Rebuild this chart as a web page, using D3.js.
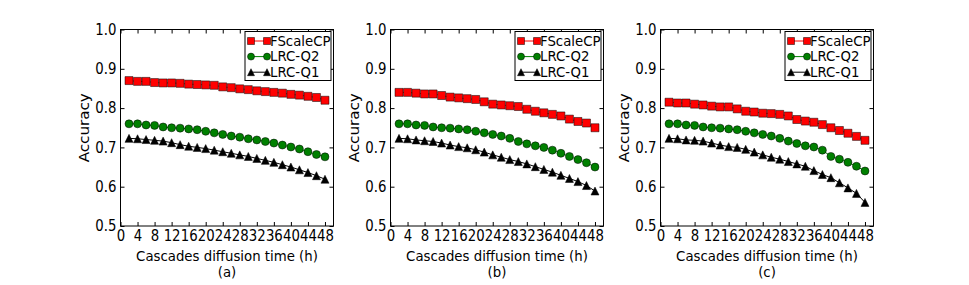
<!DOCTYPE html>
<html>
<head>
<meta charset="utf-8">
<script src="https://cdn.jsdelivr.net/npm/d3@7"></script>
<style>
  html, body { margin: 0; padding: 0; background: #fff; }
  svg { display: block; }
  text { font-family: "DejaVu Sans", sans-serif; fill: #000; }
</style>
</head>
<body>
<svg id="chart" width="969" height="285"></svg>
<script>
// ---- data ----
const hours = [2, 4, 6, 8, 10, 12, 14, 16, 18, 20, 22, 24, 26, 28, 30, 32, 34, 36, 38, 40, 42, 44, 46, 48];
const xTicks = [0, 4, 8, 12, 16, 20, 24, 28, 32, 36, 40, 44, 48];
const yTicks = [0.5, 0.6, 0.7, 0.8, 0.9, 1.0];
const seriesNames = ["FScaleCP", "LRC-Q2", "LRC-Q1"];
const panelLabels = ["(a)", "(b)", "(c)"];

const aFScaleCP = [0.870, 0.868, 0.868, 0.865, 0.864, 0.864, 0.863, 0.861, 0.860, 0.859, 0.858, 0.854, 0.852, 0.849, 0.847, 0.844, 0.842, 0.840, 0.838, 0.835, 0.833, 0.830, 0.827, 0.820];
const aLRCQ2   = [0.760, 0.760, 0.757, 0.756, 0.752, 0.750, 0.749, 0.747, 0.745, 0.741, 0.737, 0.733, 0.729, 0.726, 0.722, 0.719, 0.715, 0.711, 0.706, 0.701, 0.696, 0.689, 0.682, 0.676];
const aLRCQ1   = [0.723, 0.722, 0.720, 0.718, 0.716, 0.712, 0.707, 0.703, 0.700, 0.697, 0.693, 0.689, 0.685, 0.681, 0.677, 0.672, 0.667, 0.662, 0.656, 0.650, 0.643, 0.636, 0.628, 0.619];

const bFScaleCP = [0.840, 0.840, 0.838, 0.836, 0.836, 0.832, 0.828, 0.826, 0.824, 0.822, 0.816, 0.810, 0.808, 0.806, 0.804, 0.797, 0.792, 0.788, 0.784, 0.780, 0.772, 0.766, 0.762, 0.750];
const bLRCQ2   = [0.760, 0.760, 0.757, 0.756, 0.752, 0.750, 0.749, 0.747, 0.745, 0.741, 0.737, 0.733, 0.729, 0.723, 0.715, 0.709, 0.704, 0.700, 0.693, 0.685, 0.677, 0.669, 0.661, 0.650];
const bLRCQ1   = [0.723, 0.722, 0.719, 0.717, 0.715, 0.711, 0.706, 0.702, 0.699, 0.694, 0.688, 0.681, 0.675, 0.669, 0.664, 0.658, 0.651, 0.644, 0.637, 0.629, 0.621, 0.613, 0.603, 0.589];

const cFScaleCP = [0.815, 0.813, 0.813, 0.810, 0.808, 0.805, 0.803, 0.803, 0.798, 0.792, 0.790, 0.787, 0.786, 0.784, 0.780, 0.771, 0.767, 0.764, 0.758, 0.750, 0.743, 0.736, 0.728, 0.718];
const cLRCQ2   = [0.760, 0.760, 0.757, 0.756, 0.752, 0.750, 0.749, 0.747, 0.745, 0.741, 0.737, 0.733, 0.729, 0.723, 0.716, 0.710, 0.704, 0.701, 0.693, 0.677, 0.670, 0.662, 0.652, 0.640];
const cLRCQ1   = [0.723, 0.722, 0.719, 0.718, 0.716, 0.711, 0.706, 0.702, 0.700, 0.695, 0.688, 0.681, 0.675, 0.670, 0.664, 0.658, 0.652, 0.641, 0.631, 0.623, 0.610, 0.597, 0.583, 0.560];

const panels = [
  [aFScaleCP, aLRCQ2, aLRCQ1],
  [bFScaleCP, bLRCQ2, bLRCQ1],
  [cFScaleCP, cLRCQ2, cLRCQ1]
];

// ---- style ----
const colors = ["#ff0000", "#008000", "#000000"];
const shapes = ["square", "circle", "triangle"];
const panelLeft = [120.5, 390.5, 660.5];
const plotW = 213, plotTop = 29.5, plotH = 196.5;
const ms = 8;
const fontSize = 13.3;
const stretch = 1.14;   // glyphs in the reference are slightly taller than wide

const svg = d3.select("#chart");

function markerPath(shape, s) {
  const h = s / 2;
  if (shape === "square") return `M${-h},${-h}H${h}V${h}H${-h}Z`;
  if (shape === "triangle") return `M0,${-h}L${h},${h}L${-h},${h}Z`;
  return d3.symbol(d3.symbolCircle, Math.PI * h * h)();
}

function label(parent, tx, ty, str, rot, k) {
  const s = k === undefined ? stretch : k;
  return parent.append("text")
    .attr("transform", `translate(${tx},${ty})${rot ? " rotate(" + rot + ")" : ""} scale(${rot ? s + ",1" : "1," + s})`)
    .attr("text-anchor", "middle")
    .attr("font-size", fontSize)
    .text(str);
}

const x = d3.scaleLinear().domain([0, 50]).range([0, plotW]);
const y = d3.scaleLinear().domain([0.5, 1.0]).range([plotH, 0]);

panels.forEach((series, pi) => {
  const g = svg.append("g").attr("transform", `translate(${panelLeft[pi]},${plotTop})`);

  // lines and markers
  series.forEach((vals, si) => {
    const pts = hours.map((h, i) => [h, vals[i]]);
    g.append("path")
      .datum(pts)
      .attr("fill", "none")
      .attr("stroke", colors[si])
      .attr("stroke-width", 1)
      .attr("d", d3.line().x(d => x(d[0])).y(d => y(d[1])));
    g.selectAll(null)
      .data(pts)
      .enter()
      .append("path")
      .attr("transform", d => `translate(${x(d[0])},${y(d[1])})`)
      .attr("d", markerPath(shapes[si], ms))
      .attr("fill", colors[si])
      .attr("stroke", "#000")
      .attr("stroke-width", 0.5);
  });

  // axes (ticks inward on all four sides)
  const bottom = g.append("g").attr("transform", `translate(0,${plotH})`)
    .call(d3.axisBottom(x).tickValues(xTicks).tickSize(-4).tickPadding(4).tickFormat(d3.format("d")));
  const top = g.append("g")
    .call(d3.axisTop(x).tickValues(xTicks).tickSize(-4).tickFormat(""));
  const left = g.append("g")
    .call(d3.axisLeft(y).tickValues(yTicks).tickSize(-4).tickPadding(4).tickFormat(d3.format(".1f")));
  const right = g.append("g").attr("transform", `translate(${plotW},0)`)
    .call(d3.axisRight(y).tickValues(yTicks).tickSize(-4).tickFormat(""));
  [bottom, top, left, right].forEach(ax => {
    ax.selectAll(".domain").remove();
    ax.selectAll("line").attr("stroke", "#000");
    ax.selectAll("text").attr("font-size", fontSize).attr("font-family", "DejaVu Sans");
  });
  bottom.selectAll("text").attr("transform", `scale(1,${stretch})`);
  left.selectAll("text").attr("transform", `scale(1,${stretch})`);

  // frame
  g.append("rect")
    .attr("x", 0).attr("y", 0).attr("width", plotW).attr("height", plotH)
    .attr("fill", "none").attr("stroke", "#000").attr("stroke-width", 1);

  // axis labels (positions relative to the plot's top edge)
  label(g, plotW / 2, 260.5 - plotTop, "Cascades diffusion time (h)", null, 1);
  label(g, plotW / 2, 276.5 - plotTop, panelLabels[pi], null, 1);
  label(g, 88.5 - panelLeft[0], plotH / 2, "Accuracy", -90);

  // legend
  const lgW = 86, lgH = 49;
  const lg = g.append("g").attr("transform", `translate(${plotW - 2.5 - lgW},${2})`);
  lg.append("rect").attr("width", lgW).attr("height", lgH)
    .attr("fill", "#fff").attr("stroke", "#000").attr("stroke-width", 1);
  seriesNames.forEach((name, si) => {
    const cy = 9.5 + si * 15.6;
    const x0 = 6, x1 = 22;
    lg.append("line").attr("x1", x0).attr("x2", x1).attr("y1", cy).attr("y2", cy)
      .attr("stroke", colors[si]).attr("stroke-width", 1);
    [x0, x1].forEach(px => {
      lg.append("path").attr("transform", `translate(${px},${cy})`)
        .attr("d", markerPath(shapes[si], 7))
        .attr("fill", colors[si]).attr("stroke", "#000").attr("stroke-width", 0.5);
    });
    lg.append("text")
      .attr("x", 25).attr("y", cy)
      .attr("dy", "0.36em")
      .attr("font-size", fontSize).text(name);
  });
});
</script>
</body>
</html>
